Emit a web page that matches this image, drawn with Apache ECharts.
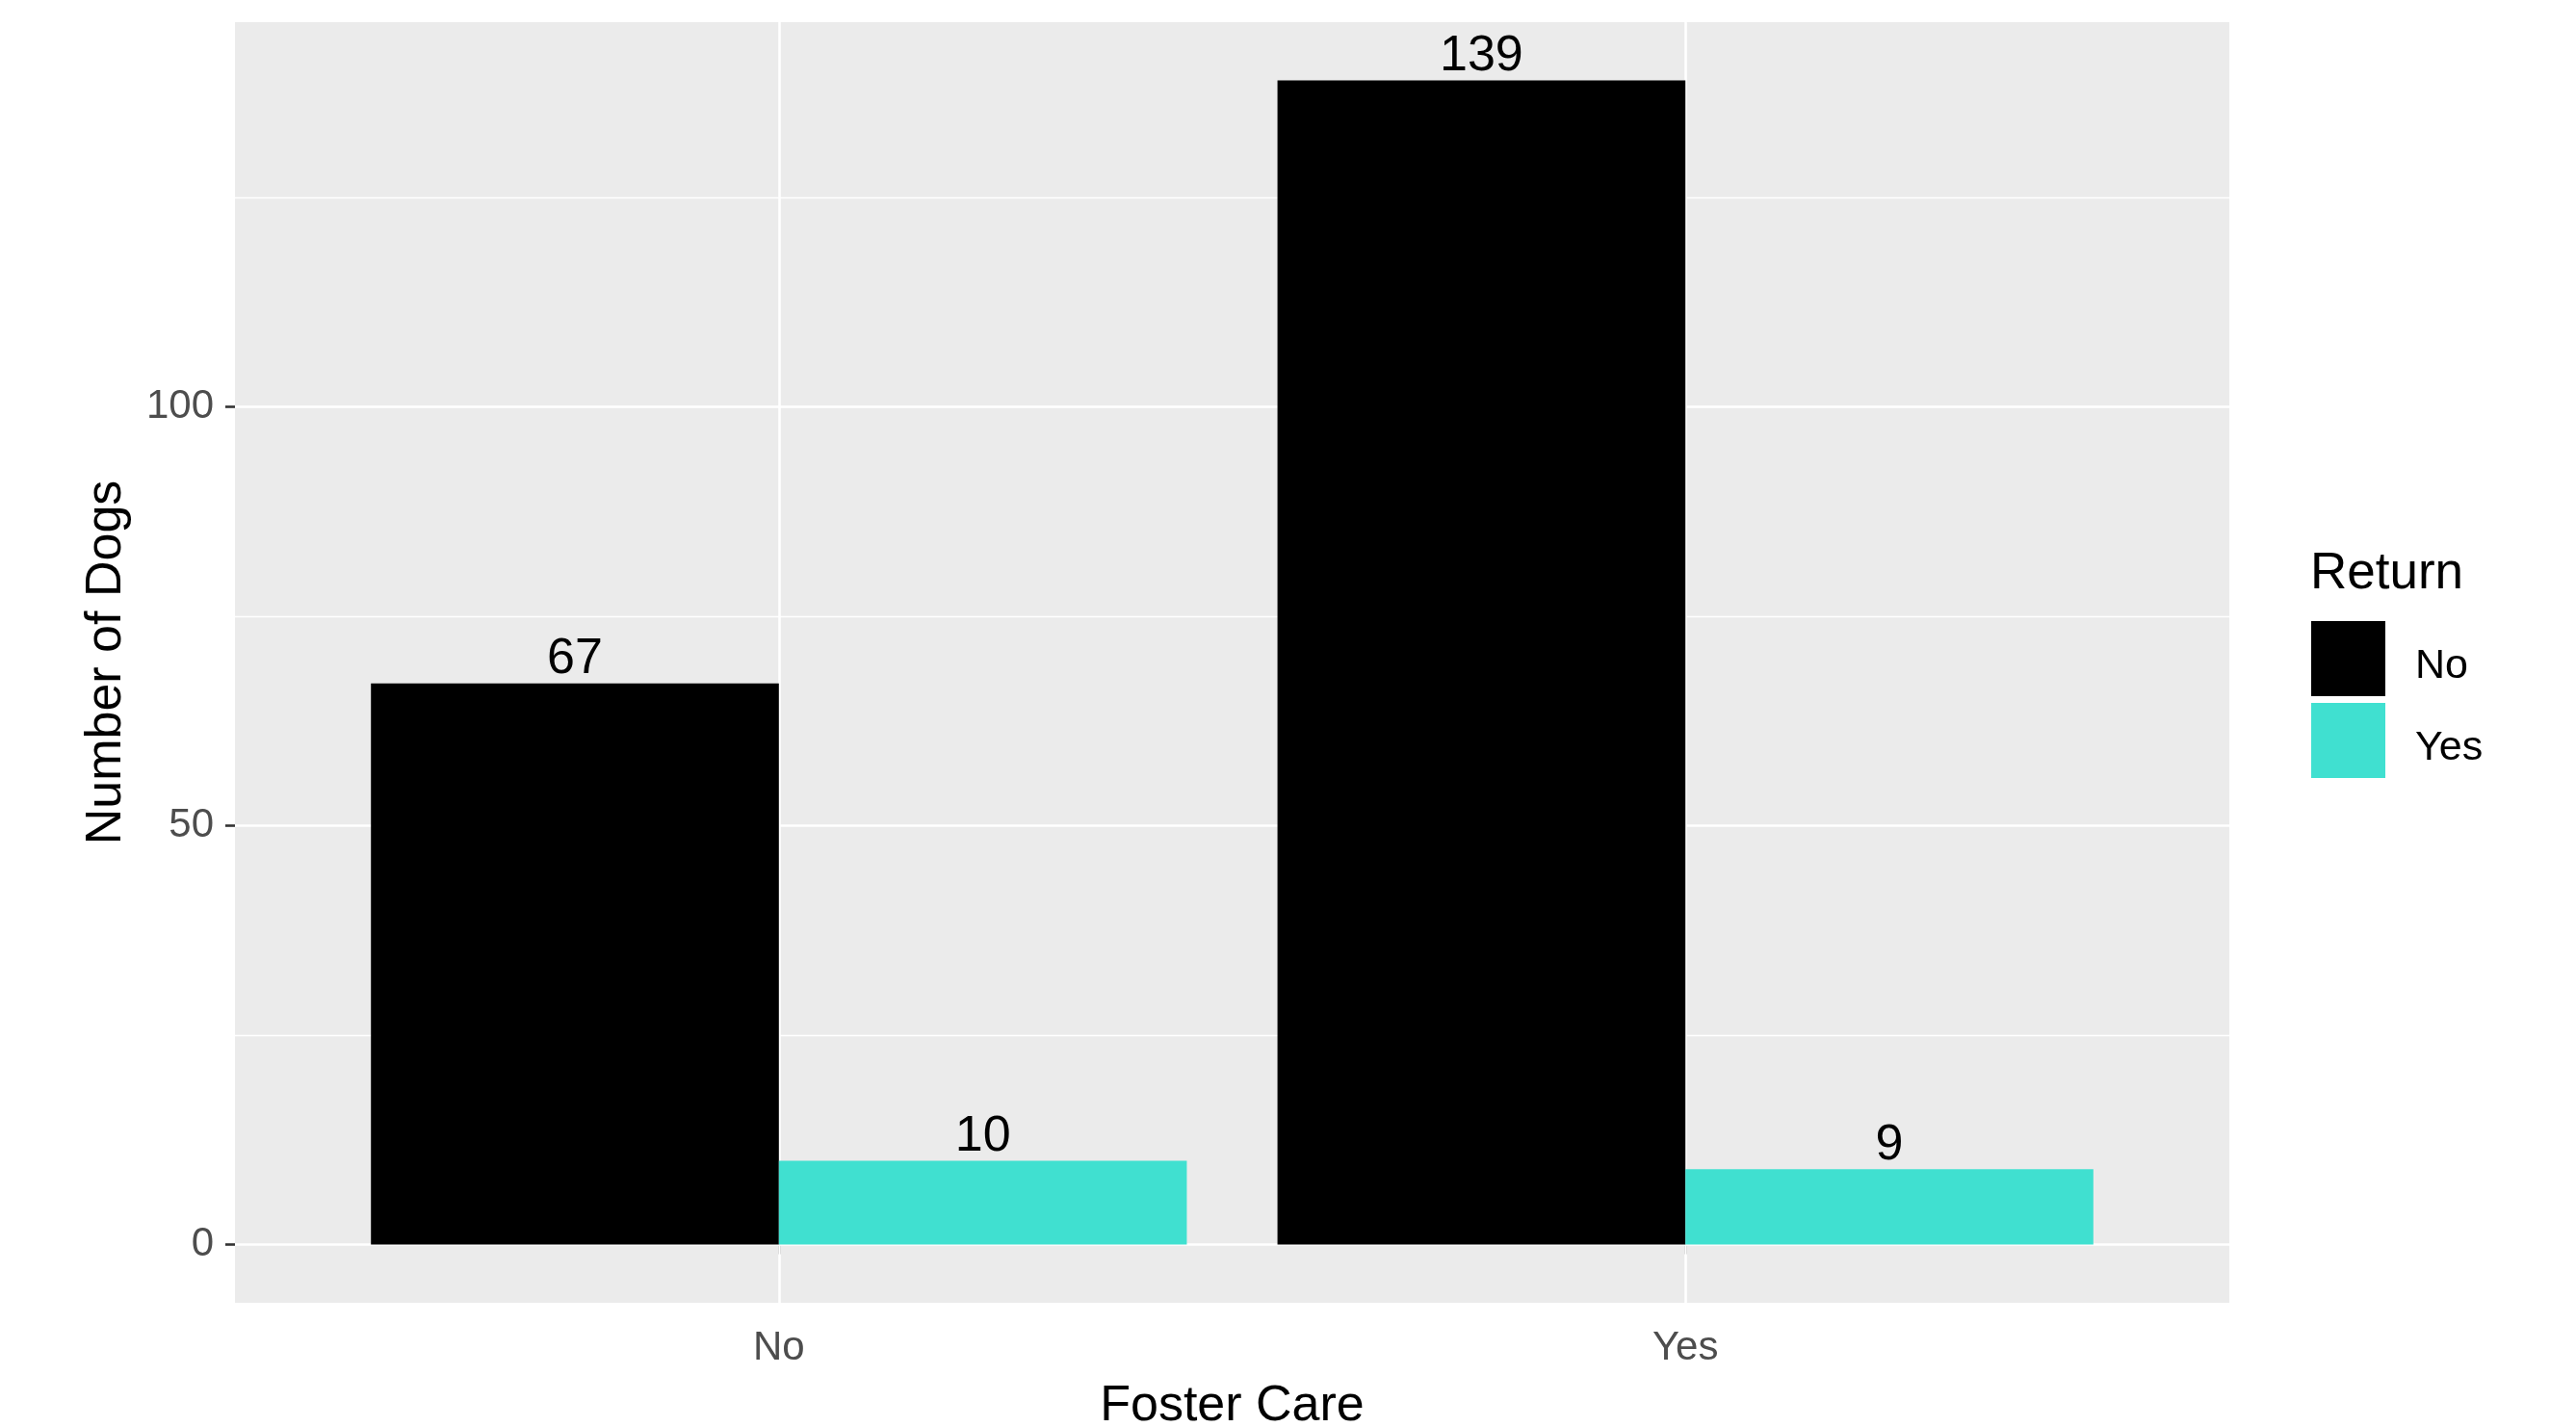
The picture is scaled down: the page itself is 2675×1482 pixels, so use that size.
<!DOCTYPE html>
<html>
<head>
<meta charset="utf-8">
<title>Foster Care and Returns</title>
<script src="https://cdn.jsdelivr.net/npm/echarts@6/dist/echarts.min.js"></script>
<style>
  html, body { margin: 0; padding: 0; background: #ffffff; }
  #chart { width: 2675px; height: 1482px; }
</style>
</head>
<body>
<div id="chart"></div>
<script>
// Dog counts by foster-care status, split by whether the dog was returned
const categories = ['No', 'Yes'];          // Foster Care
const returnNo   = [67, 139];              // Return = No
const returnYes  = [10, 9];                // Return = Yes
const seriesNames = ['No', 'Yes'];         // Return legend entries
const yBreaks = [0, 50, 100];
const yMinorBreaks = [25, 75, 125];

const FONT = 'Liberation Sans, Arial, Helvetica, sans-serif';
const grid = { left: 244, right: 360, top: 23, bottom: 129 };
const plotWidth = 2675 - grid.left - grid.right;

// discrete x scale with ggplot-style padding (0.6 on each side)
const xMin = 0.4, xMax = categories.length + 0.6;
const dodge = 0.45;                         // width of one dodged bar
const barPx = dodge / (xMax - xMin) * plotWidth;

// continuous y scale expanded by 5% of the data range
const yTop = Math.max(...returnNo, ...returnYes);
const yMin = -0.05 * yTop, yMax = yTop * 1.05;

const noData  = returnNo.map((v, i) => [i + 1 - dodge / 2, v]);
const yesData = returnYes.map((v, i) => [i + 1 + dodge / 2, v]);

const majorLine = { color: '#ffffff', width: 2.6, type: 'solid' };
const minorLine = { color: '#ffffff', width: 1.3, type: 'solid' };

const chart = echarts.init(document.getElementById('chart'), null, { renderer: 'canvas' });

chart.setOption({
  animation: false,
  backgroundColor: '#ffffff',
  textStyle: { fontFamily: FONT },
  title: {
    text: 'Return',
    left: 2399,
    top: 570,
    padding: 0,
    textStyle: { fontFamily: FONT, fontSize: 53, fontWeight: 'normal', color: '#000000' }
  },
  legend: {
    orient: 'vertical',
    left: 2400,
    top: 645,
    padding: 0,
    itemWidth: 77,
    itemHeight: 78,
    itemGap: 7,
    icon: 'rect',
    data: seriesNames,
    formatter: name => '{k|' + name + '}',
    textStyle: {
      fontFamily: FONT,
      fontSize: 43,
      color: '#000000',
      rich: {
        k: { fontFamily: FONT, fontSize: 43, color: '#000000', padding: [16, 0, 0, 26] }
      }
    }
  },
  grid: Object.assign({
    show: true,
    backgroundColor: '#EBEBEB',
    borderWidth: 0,
    containLabel: false,
    outerBoundsMode: 'none'
  }, grid),
  xAxis: {
    type: 'value',
    min: xMin,
    max: xMax,
    name: 'Foster Care',
    nameLocation: 'middle',
    nameGap: 82,
    nameTextStyle: { fontFamily: FONT, fontSize: 52, color: '#000000' },
    axisLine: { show: false },
    splitLine: { show: false },
    axisTick: {
      show: true,
      customValues: categories.map((c, i) => i + 1),
      length: 10,
      lineStyle: { color: '#333333', width: 2.6 }
    },
    axisLabel: {
      customValues: categories.map((c, i) => i + 1),
      formatter: v => categories[Math.round(v) - 1],
      fontFamily: FONT,
      fontSize: 42,
      color: '#4D4D4D',
      margin: 26
    }
  },
  yAxis: {
    type: 'value',
    min: yMin,
    max: yMax,
    name: 'Number of Dogs',
    nameLocation: 'middle',
    nameGap: 107,
    nameTextStyle: { fontFamily: FONT, fontSize: 52, color: '#000000' },
    axisLine: { show: false },
    splitLine: { show: false },
    axisTick: {
      show: true,
      customValues: yBreaks,
      length: 10,
      lineStyle: { color: '#333333', width: 2.6 }
    },
    axisLabel: {
      customValues: yBreaks,
      fontFamily: FONT,
      fontSize: 42,
      color: '#4D4D4D',
      margin: 22
    }
  },
  series: [
    {
      // panel grid lines, kept beneath the bars
      name: 'gridlines',
      type: 'line',
      data: [],
      silent: true,
      legendHoverLink: false,
      z: 1,
      markLine: {
        silent: true,
        z: 1,
        symbol: 'none',
        label: { show: false },
        animation: false,
        data: [
          ...yMinorBreaks.map(v => ({ yAxis: v, lineStyle: minorLine })),
          ...yBreaks.map(v => ({ yAxis: v, lineStyle: majorLine })),
          ...categories.map((c, i) => ({ xAxis: i + 1, lineStyle: majorLine }))
        ]
      }
    },
    {
      name: seriesNames[0],
      type: 'bar',
      data: noData,
      barWidth: barPx,
      barGap: '-100%',
      z: 2,
      itemStyle: { color: '#000000' },
      label: {
        show: true,
        position: 'top',
        distance: -1,
        formatter: p => p.value[1],
        fontFamily: FONT,
        fontSize: 52,
        color: '#000000'
      }
    },
    {
      name: seriesNames[1],
      type: 'bar',
      data: yesData,
      barWidth: barPx,
      barGap: '-100%',
      z: 2,
      itemStyle: { color: '#40E0D0' },
      label: {
        show: true,
        position: 'top',
        distance: -1,
        formatter: p => p.value[1],
        fontFamily: FONT,
        fontSize: 52,
        color: '#000000'
      }
    }
  ]
});
</script>
</body>
</html>
